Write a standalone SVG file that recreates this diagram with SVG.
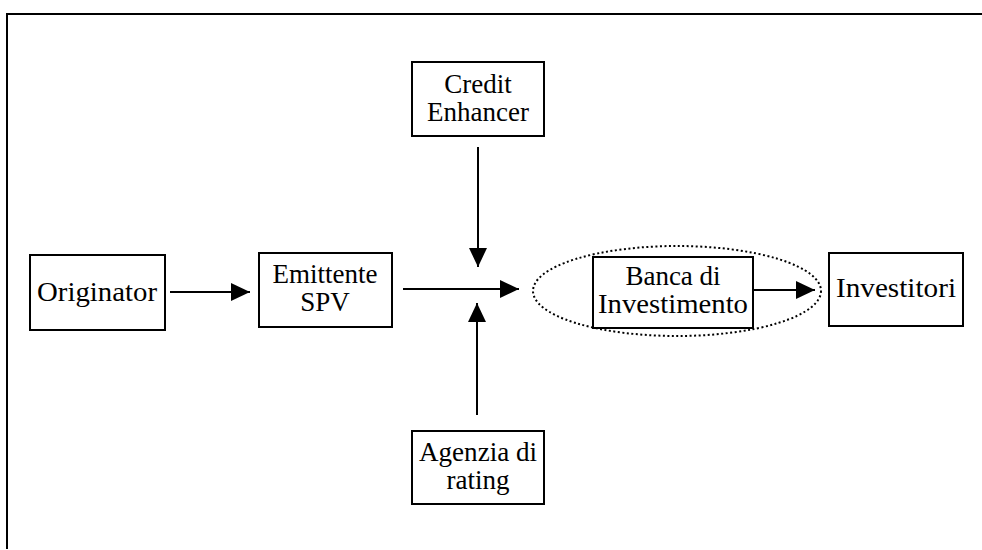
<svg xmlns="http://www.w3.org/2000/svg" width="982" height="550" viewBox="0 0 982 550">
<defs>
<style>
.box{fill:#fff;stroke:#000;stroke-width:2}
.t{font-family:"Liberation Serif",serif;font-size:27px;fill:#000;text-anchor:middle}
.ln{stroke:#000;stroke-width:2;fill:none}
</style>
<marker id="ah" markerWidth="19" markerHeight="18" refX="19" refY="9" orient="auto" markerUnits="userSpaceOnUse">
<path d="M0,0 L19,9 L0,18 Z" fill="#000"/>
</marker>
</defs>
<rect width="982" height="550" fill="#fff"/>
<path d="M7,549 V14 H982" class="ln"/>
<g id="credit-enhancer">
<rect class="box" x="412" y="62" width="132" height="74"/>
<text class="t" x="478" y="93">Credit</text>
<text class="t" x="478" y="121">Enhancer</text>
</g>
<g id="originator">
<rect class="box" x="30" y="255" width="135" height="75"/>
<text class="t" x="97" y="301" textLength="120" lengthAdjust="spacingAndGlyphs">Originator</text>
</g>
<g id="emittente">
<rect class="box" x="259" y="253" width="133" height="74"/>
<text class="t" x="325" y="283">Emittente</text>
<text class="t" x="325" y="311">SPV</text>
</g>
<g id="banca">
<ellipse cx="677" cy="291" rx="144" ry="45" fill="none" stroke="#000" stroke-width="2" stroke-dasharray="2,2.5"/>
<rect class="box" x="593" y="257" width="160" height="71"/>
<text class="t" x="673" y="285">Banca di</text>
<text class="t" x="673" y="313" textLength="150" lengthAdjust="spacingAndGlyphs">Investimento</text>
</g>
<g id="investitori">
<rect class="box" x="829" y="253" width="134" height="73"/>
<text class="t" x="896" y="297" textLength="120" lengthAdjust="spacingAndGlyphs">Investitori</text>
</g>
<g id="agenzia">
<rect class="box" x="412" y="431" width="132" height="73"/>
<text class="t" x="478" y="461" textLength="118" lengthAdjust="spacingAndGlyphs">Agenzia di</text>
<text class="t" x="478" y="489">rating</text>
</g>
<g id="connectors">
<line class="ln" x1="170" y1="292" x2="250" y2="292" marker-end="url(#ah)"/>
<line class="ln" x1="403" y1="289" x2="519" y2="289" marker-end="url(#ah)"/>
<line class="ln" x1="478" y1="147" x2="478" y2="267" marker-end="url(#ah)"/>
<line class="ln" x1="477" y1="415" x2="477" y2="303" marker-end="url(#ah)"/>
<line class="ln" x1="753" y1="290" x2="815" y2="290" marker-end="url(#ah)"/>
</g>
</svg>
